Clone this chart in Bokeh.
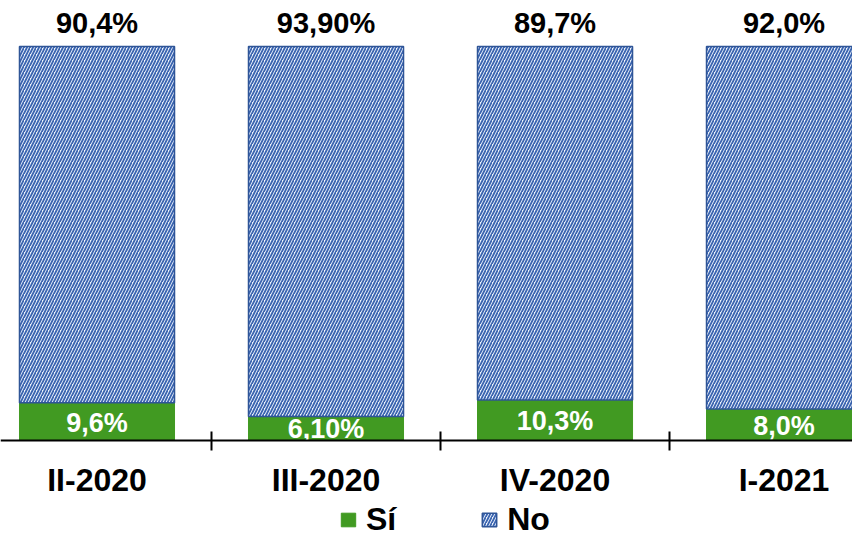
from bokeh.plotting import figure
from bokeh.models import Range1d, FixedTicker, Legend, LegendItem, ColumnDataSource
from bokeh.embed import file_html
from bokeh.resources import INLINE
from bokeh.core.properties import value

periods = ["II-2020", "III-2020", "IV-2020", "I-2021"]
si = [9.6, 6.1, 10.3, 8.0]
no = [90.4, 93.9, 89.7, 92.0]
si_labels = ["9,6%", "6,10%", "10,3%", "8,0%"]
no_labels = ["90,4%", "93,90%", "89,7%", "92,0%"]

FONT = "Liberation Sans"
GREEN = "#419A22"
BLUE = "#2F5597"

x = [i + 0.5 for i in range(len(periods))]
src = ColumnDataSource(dict(
    x=x, si=si, no=no,
    top=[a + b for a, b in zip(si, no)],
    si_mid=[s / 2 for s in si],
    si_lab=si_labels, no_lab=no_labels,
))

p = figure(width=852, height=536, output_backend="svg", toolbar_location=None,
           x_range=Range1d(0.0786, 3.799), y_range=Range1d(-24.37, 111.68),
           y_axis_location=None,
           min_border_left=0, min_border_right=0, min_border_top=0, min_border_bottom=0)
p.outline_line_color = None
p.grid.visible = False
p.background_fill_color = "white"

r_si = p.vbar(x="x", bottom=0, top="si", width=0.677, source=src,
              fill_color=GREEN, line_color=GREEN)
r_no = p.vbar(x="x", bottom="si", top="top", width=0.677, source=src,
              fill_color="#EEF3FB", line_color=BLUE, line_width=1.5,
              hatch_pattern="/", hatch_color="#3A64B0", hatch_scale=6, hatch_weight=1.8)

p.text(x="x", y="top", text="no_lab", source=src, text_align="center",
       text_baseline="middle", y_offset=-24, text_font=value(FONT),
       text_font_style="bold", text_font_size="29px", text_color="black")
p.text(x="x", y="si_mid", text="si_lab", source=src, text_align="center",
       text_baseline="middle", y_offset=1, text_font=value(FONT),
       text_font_style="bold", text_font_size="27px", text_color="white")

ax = p.xaxis[0]
ax.fixed_location = 0
ax.ticker = FixedTicker(ticks=x, minor_ticks=[i for i in range(1, len(periods))])
ax.major_label_overrides = {xi: lab for xi, lab in zip(x, periods)}
ax.axis_line_color = "black"
ax.axis_line_width = 2
ax.major_tick_in = 0
ax.major_tick_out = 0
ax.minor_tick_in = 9
ax.minor_tick_out = 10
ax.minor_tick_line_color = "black"
ax.minor_tick_line_width = 2
ax.major_label_standoff = 12
ax.major_label_text_font = FONT
ax.major_label_text_font_style = "bold"
ax.major_label_text_font_size = "32px"
ax.major_label_text_color = "black"

legend = Legend(items=[LegendItem(label="Sí", renderers=[r_si]),
                       LegendItem(label="No", renderers=[r_no])],
                orientation="horizontal", location=(339, -2))
legend.label_text_font = FONT
legend.label_text_font_style = "bold"
legend.label_text_font_size = "32px"
legend.label_text_color = "black"
legend.glyph_width = 18
legend.glyph_height = 17
legend.label_height = 20
legend.label_standoff = 9
legend.spacing = 84
legend.padding = 0
legend.margin = 0
legend.border_line_color = None
legend.background_fill_alpha = 0
p.add_layout(legend, "center")

open("out.html", "w").write(file_html(p, INLINE))
